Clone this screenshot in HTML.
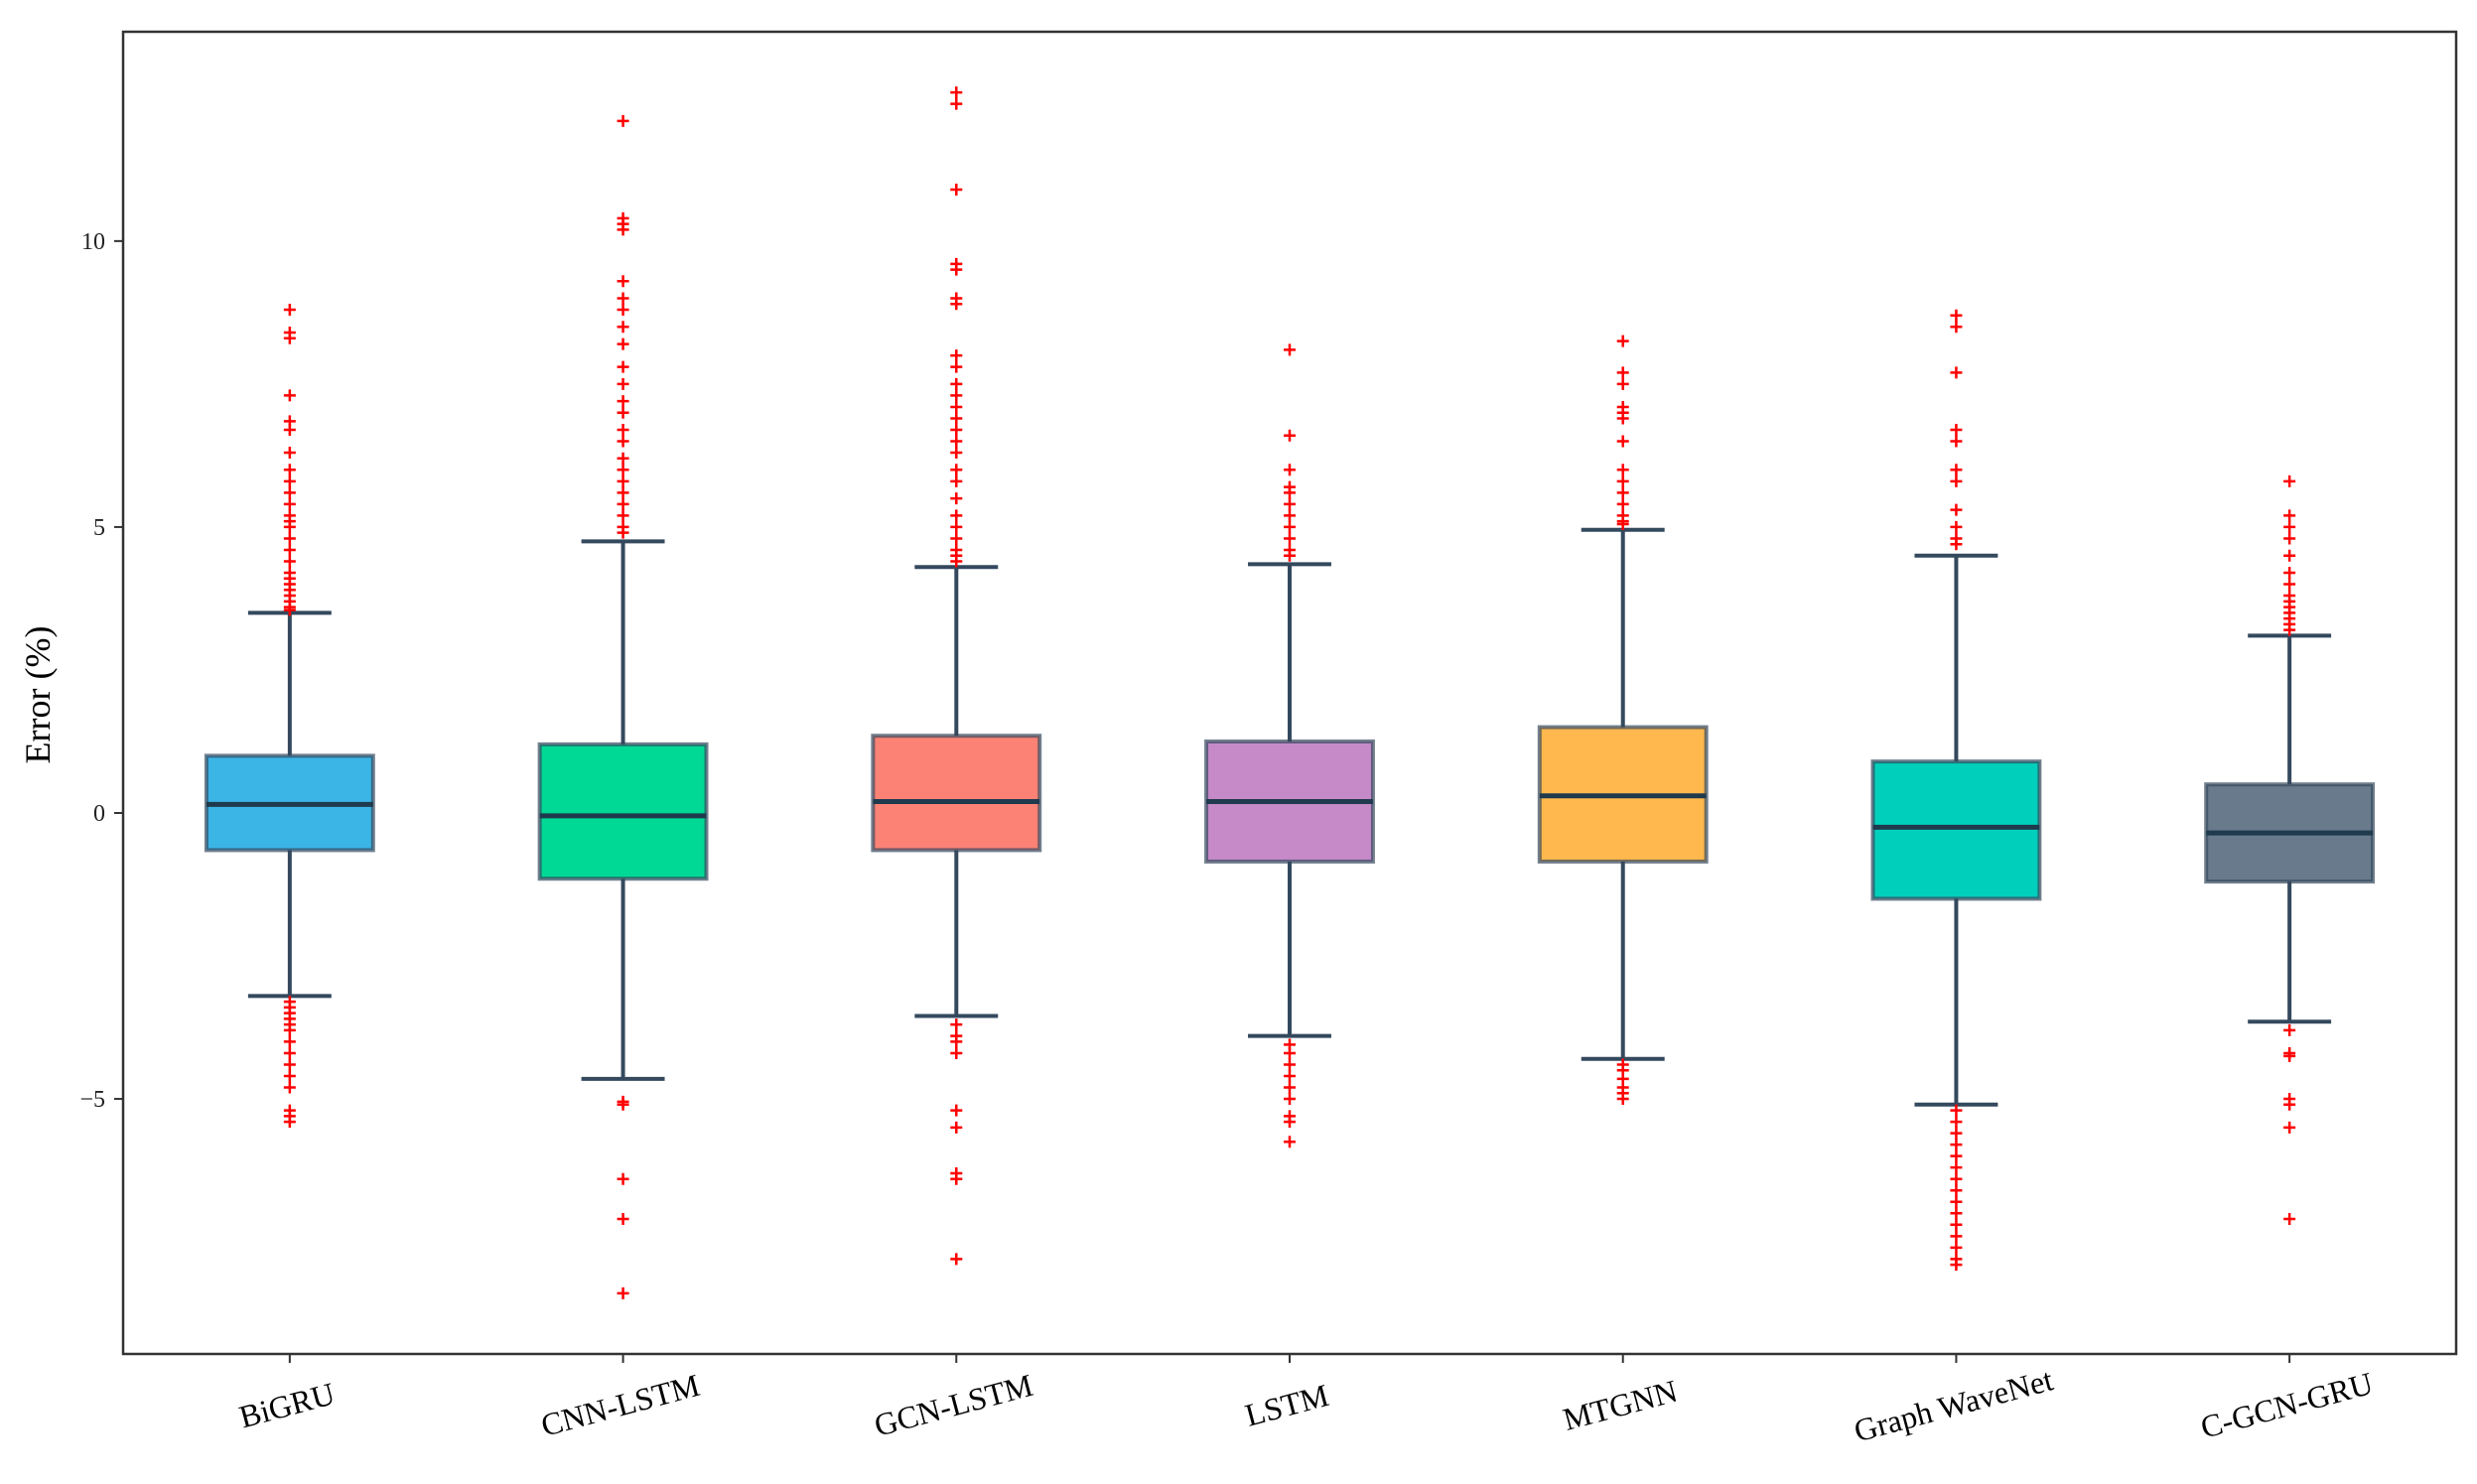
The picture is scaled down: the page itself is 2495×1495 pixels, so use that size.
<!DOCTYPE html>
<html><head><meta charset="utf-8"><style>
html,body{margin:0;padding:0;background:#fff;}
svg{display:block;font-family:"Liberation Serif",serif;}
</style></head><body>
<svg id="chart" width="2495" height="1495" viewBox="0 0 2495 1495" xmlns="http://www.w3.org/2000/svg">
<rect x="0" y="0" width="2495" height="1495" fill="#fff"/>
<g id="plot"></g>
<rect x="124" y="32" width="2350" height="1332" fill="none" stroke="#333" stroke-width="2.5"/>
<text transform="translate(50,700) rotate(-90)" text-anchor="middle" font-size="36" fill="#000">Error (%)</text>
</svg>
<script>
const categories = ["BiGRU","CNN-LSTM","GCN-LSTM","LSTM","MTGNN","Graph WaveNet","C-GCN-GRU"];
const q1 = [-0.65,-1.15,-0.65,-0.85,-0.85,-1.5,-1.2];
const medians = [0.15,-0.05,0.2,0.2,0.3,-0.25,-0.35];
const q3 = [1.0,1.2,1.35,1.25,1.5,0.9,0.5];
const whiskerLow = [-3.2,-4.65,-3.55,-3.9,-4.3,-5.1,-3.65];
const whiskerHigh = [3.5,4.75,4.3,4.35,4.95,4.5,3.1];
const colors = ["#3bb5e6","#00d995","#fb8275","#c68ac9","#ffb84d","#00d0bb","#687a8b"];
const outliers = [
 [3.55,3.6,3.7,3.8,3.9,4.0,4.1,4.2,4.4,4.6,4.8,5.0,5.1,5.2,5.4,5.6,5.8,6.0,6.3,6.7,6.85,7.3,8.3,8.4,8.8,-3.3,-3.4,-3.5,-3.6,-3.7,-3.8,-4.0,-4.2,-4.4,-4.6,-4.8,-5.2,-5.3,-5.4],
 [4.9,5.0,5.2,5.4,5.6,5.8,6.0,6.2,6.5,6.7,7.0,7.2,7.5,7.8,8.2,8.5,8.8,9.0,9.3,10.2,10.3,10.4,12.1,-5.05,-5.1,-6.4,-7.1,-8.4],
 [4.4,4.5,4.6,4.8,5.0,5.2,5.5,5.8,6.0,6.3,6.5,6.7,6.9,7.1,7.3,7.5,7.8,8.0,8.9,9.0,9.5,9.6,10.9,12.4,12.6,-3.7,-3.9,-4.0,-4.2,-5.2,-5.5,-6.3,-6.4,-7.8],
 [4.5,4.6,4.8,5.0,5.2,5.4,5.6,5.7,6.0,6.6,8.1,-4.05,-4.2,-4.4,-4.6,-4.8,-5.0,-5.3,-5.4,-5.75],
 [5.05,5.1,5.2,5.4,5.6,5.8,6.0,6.5,6.9,7.0,7.1,7.5,7.7,8.25,-4.4,-4.5,-4.65,-4.8,-4.9,-5.0],
 [4.7,4.8,5.0,5.3,5.8,6.0,6.5,6.7,7.7,8.5,8.7,-5.2,-5.4,-5.6,-5.8,-6.0,-6.2,-6.4,-6.6,-6.8,-7.0,-7.2,-7.4,-7.6,-7.8,-7.9],
 [3.2,3.3,3.4,3.5,3.6,3.7,3.8,4.0,4.2,4.5,4.8,5.0,5.2,5.8,-3.8,-4.2,-4.25,-5.0,-5.1,-5.5,-7.1]
];
const yTicks = [-5,0,5,10];
const yTickLabels = ["\u22125","0","5","10"];

const L=124,R=2474,T=32,B=1364;
const yMin=-9.46,yMax=13.66;
function yScale(v){return B-(v-yMin)/(yMax-yMin)*(B-T);}
function xScale(i){return L+(i+1-0.5)/7*(R-L);}
const NS="http://www.w3.org/2000/svg";
const g=document.getElementById('plot');
function mk(tag,attrs,parent){const e=document.createElementNS(NS,tag);for(const k in attrs)e.setAttribute(k,attrs[k]);(parent||g).appendChild(e);return e;}
const bw=0.5/7*(R-L), capw=0.25/7*(R-L);
const edge="#34495e";
categories.forEach((c,i)=>{
  const x=xScale(i);
  const grp=mk('g',{});
  
  
  const w1=mk('line',{x1:x,x2:x,y1:yScale(q1[i]),y2:yScale(whiskerLow[i]),stroke:edge,'stroke-width':4},grp);
  
  
  const w2=mk('line',{x1:x,x2:x,y1:yScale(q3[i]),y2:yScale(whiskerHigh[i]),stroke:edge,'stroke-width':4},grp);
  
  
  [whiskerLow[i],whiskerHigh[i]].forEach(v=>{
    const cap=mk('line',{x1:x-capw/2,x2:x+capw/2,y1:yScale(v),y2:yScale(v),stroke:edge,'stroke-width':4},grp);
    
    
  });
  const r=mk('rect',{x:x-bw/2,y:yScale(q3[i]),width:bw,height:yScale(q1[i])-yScale(q3[i]),fill:colors[i],stroke:edge,'stroke-opacity':0.7,'stroke-width':4},grp);
  
  
  const m=mk('line',{x1:x-bw/2,x2:x+bw/2,y1:yScale(medians[i]),y2:yScale(medians[i]),stroke:'#1f3a4d','stroke-width':5},grp);
  
  
  outliers[i].forEach(v=>{
    const y=yScale(v);
    const p=mk('path',{d:`M${x-6},${y}H${x+6}M${x},${y-6}V${y+6}`,stroke:'#ff0000','stroke-width':2.5},grp);
    
    
  });
  const tk=mk('line',{x1:x,x2:x,y1:B,y2:B+9,stroke:'#333','stroke-width':2});
  
  
  const t=mk('text',{transform:`translate(${x},${B+62}) rotate(-15)`,'text-anchor':'middle','font-size':32,fill:'#000'});
  
  
  t.textContent=c;
});
yTicks.forEach((v,j)=>{
  const y=yScale(v);
  const tk=mk('line',{x1:L-9,x2:L,y1:y,y2:y,stroke:'#333','stroke-width':2});
  
  
  const t=mk('text',{x:L-18,y:y+8,'text-anchor':'end','font-size':24,fill:'#222'});
  
  
  t.textContent=yTickLabels[j];
});
</script>
</body></html>
